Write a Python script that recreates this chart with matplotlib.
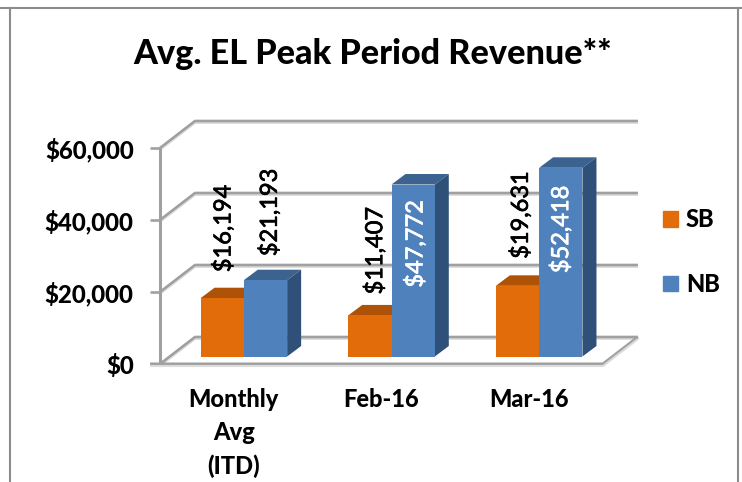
import numpy as np
import matplotlib; matplotlib.use("Agg")
import matplotlib.pyplot as plt
import matplotlib.patheffects as pe
from matplotlib.patches import Patch

categories = ["Monthly\nAvg\n(ITD)", "Feb-16", "Mar-16"]
sb_values = [16194, 11407, 19631]
nb_values = [21193, 47772, 52418]
y_ticks = [0, 20000, 40000, 60000]

plt.rcParams["font.family"] = ["Lato", "DejaVu Sans"]
W, H = 742, 482
fig = plt.figure(figsize=(W/100, H/100), dpi=100)
ax = fig.add_axes([160/W, (H-364)/H, 443/W, 216/H])
ax.set_xlim(0, 3); ax.set_ylim(0, 60000)
for s in ax.spines.values(): s.set_visible(False)

# px to data helpers
px = lambda n: n*3/443
py = lambda n: n*60000/216
DX, DY = px(35), py(27)      # depth of the 3d box
GRAY = "#a0a0a0"; LW = 1.9

def line(xs, ys, c=GRAY, lw=LW, z=1):
    ax.plot(xs, ys, color=c, lw=lw, clip_on=False, zorder=z, solid_capstyle="butt")

# walls and floor
for t in y_ticks:
    for off, c, lw, z in [(py(1.5), "#dcdcdc", 2.0, 1), (0, GRAY, LW, 2)]:
        line([0, DX, 3+DX], [t-off, t+DY-off, t+DY-off], c, lw, z)
    line([-px(10), 0], [t, t])
line([0, 0], [0, 60000], lw=2.2)
line([-px(10), 3, 3+DX], [0, 0, DY], lw=2.2)
line([-px(10), 3, 3+DX], [-py(2), -py(2), DY-py(2)], "#dcdcdc", 1.5, 1)

# bars: front from ax.bar, side and top as polygons
bw = px(43.3); bx = px(10); by = py(7.5); sx = px(14); sy = py(10.5)
x = np.arange(3)+0.5
series = [("SB", sb_values, x+bx-bw/2, "#e36c0a", "#ad5207", "#ad5207"),
          ("NB", nb_values, x+bx+bw/2, "#4f81bd", "#3c6290", "#2f5179")]
for name, vals, xs, front, top, side in series:
    for xc, v in zip(xs, vals):
        l, r = xc-bw/2, xc+bw/2; t = v+by
        ax.fill([l, l+sx, r+sx, r], [t, t+sy, t+sy, t], color=top, lw=0, zorder=3, clip_on=False)
        ax.fill([r, r+sx, r+sx, r], [by, by+sy, t+sy, t], color=side, lw=0, zorder=3, clip_on=False)
    ax.bar(xs, vals, bw, bottom=by, color=front, lw=0, zorder=4)

# data labels, the two tall NB bars carry theirs inside in white
FS = 17
nudges = {16194: (1, 26), 21193: (4, 24), 11407: (5, 21), 47772: (2, -16), 19631: (3, 27), 52418: (0, -18)}
for name, vals, xs, *_ in series:
    for xc, v in zip(xs, vals):
        t = v+by; lab = f"${v:,}"; nx, ny = nudges[v]
        col = "white" if v > 40000 else "black"
        va = "top" if v > 40000 else "bottom"
        txt = ax.text(xc+px(nx), t+py(ny), lab, rotation=90, ha="center", va=va, color=col, fontsize=FS, zorder=6)
        txt.set_path_effects([pe.withStroke(linewidth=0.5, foreground=col)])

ax.set_yticks(y_ticks, [f"${t:,}" for t in y_ticks], fontsize=17.3, fontweight="black")
ax.set_xticks(x, categories, fontsize=17, fontweight="black", linespacing=1.53)
ax.tick_params(axis="y", length=0, pad=19)
ax.tick_params(axis="x", length=0, pad=17)

fig.text(373/W, 1-54/H, "Avg. EL Peak Period Revenue**", ha="center", va="center", fontsize=24.6, fontweight="black")

handles = [Patch(color=s[3], label=s[0]) for s in series]
fig.legend(handles=handles, loc="center left", bbox_to_anchor=(642/W, 1-252/H), frameon=False,
           prop={"weight": "black", "size": 17}, handlelength=0.62, handleheight=0.62,
           handletextpad=0.34, labelspacing=1.75)

# outer cell border of the source table
for xs, ys in [([0, 1], [1-8/H]*2), ([10/W]*2, [0, 1-8/H]), ([738/W]*2, [0, 1-8/H])]:
    fig.add_artist(plt.Line2D(xs, ys, color="#8c8c8c", lw=1.5))

fig.savefig("out.png", dpi=100)
